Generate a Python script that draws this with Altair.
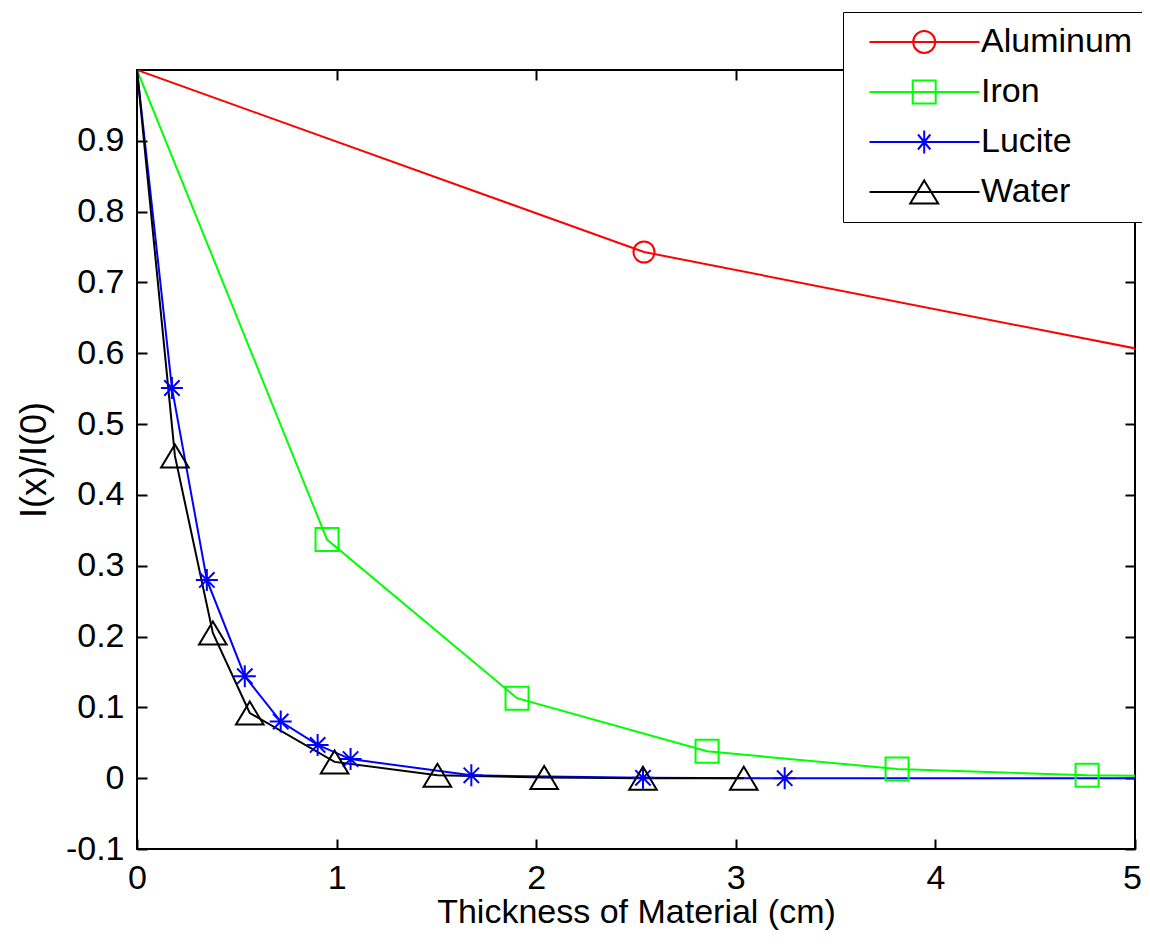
import altair as alt
import pandas as pd

series = ["Aluminum", "Iron", "Lucite", "Water"]
colors = ["#ff0000", "#00ff00", "#0000ff", "#000000"]

al_x = [0, 2.54, 7.62]
al_y = [1.0, 0.743, 0.462]
fe_x = [0, 0.952, 1.904, 2.856, 3.808, 4.76, 5.712]
fe_y = [1.0, 0.337, 0.113, 0.038, 0.013, 0.004, 0.0015]
lu_x = [0, 0.175, 0.35, 0.54, 0.72, 0.905, 1.07, 1.675, 2.535, 3.245, 5.5]
lu_y = [1.0, 0.551, 0.28, 0.144, 0.08, 0.047, 0.027, 0.004, 0.0005, 0.0, 0.0]
wa_x = [0, 0.19, 0.38, 0.565, 0.99, 1.505, 2.04, 2.535, 3.04]
wa_y = [1.0, 0.455, 0.205, 0.092, 0.023, 0.004, 0.001, 0.0, 0.0]

x_ticks = [0, 1, 2, 3, 4, 5]
y_ticks = [-0.1, 0.0, 0.1, 0.2, 0.3, 0.4, 0.5, 0.6, 0.7, 0.8, 0.9]

rows = []
for name, xs, ys in [("Aluminum", al_x, al_y), ("Iron", fe_x, fe_y),
                     ("Lucite", lu_x, lu_y), ("Water", wa_x, wa_y)]:
    for i, (xv, yv) in enumerate(zip(xs, ys)):
        rows.append({"series": name, "x": xv, "y": yv, "i": i})
df = pd.DataFrame(rows)

FONT = "Liberation Sans"
xscale = alt.Scale(domain=[0, 5], nice=False, zero=False)
yscale = alt.Scale(domain=[-0.1, 1.0], nice=False, zero=False)
cscale = alt.Scale(domain=series, range=colors)

# chart markers
marker_shapes = {
    "Aluminum": ("circle", 441),
    "Iron": ("square", 529),
    "Lucite": ("M0,-1V1M-1,0H1M-0.7,-0.7L0.7,0.7M-0.7,0.7L0.7,-0.7", 484),
    "Water": ("M0,-1L1.2,1H-1.2Z", 529),
}

# legend symbols (line + marker), 10 px per unit at symbolSize 400
legend_paths = [
    "M-0.35,0H10.65M4.02,0A1.1,1.1 0 1,1 6.22,0A1.1,1.1 0 1,1 4.02,0",
    "M-0.35,0H10.65M3.97,-1.15H6.27V1.15H3.97Z",
    "M-0.35,0H10.65M5.12,-1.15V1.15M4.42,0H5.82M4.5,-0.75L5.74,0.75M4.5,0.75L5.74,-0.75",
    "M-0.35,0H10.65M5.12,-1.15L6.52,1.15H3.72Z",
]

leg = dict(orient="none", legendX=706, legendY=-58, title=None,
           strokeColor="black", fillColor="white", padding=13,
           labelFont=FONT, labelFontSize=34, labelColor="black",
           labelOffset=91, rowPadding=16, symbolSize=400, symbolStrokeWidth=2,
           symbolOpacity=1, symbolFillColor="transparent")

color_enc = alt.Color("series:N", scale=cscale, legend=alt.Legend(**leg))

base = alt.Chart(df)

lines = base.mark_line(strokeWidth=2, clip=True).encode(
    x=alt.X("x:Q", scale=xscale, title="Thickness of Material (cm)",
            axis=alt.Axis(values=x_ticks, tickSize=alt.ExprRef(expr="-10"),
                          labelPadding=22, titlePadding=0, format="d",
                          labelFlush=False, titleFontSize=34,
                          labelOffset={"condition": {"test": "datum.value === 5", "value": -3},
                                       "value": 0})),
    y=alt.Y("y:Q", scale=yscale, title="I(x)/I(0)",
            axis=alt.Axis(values=y_ticks, tickSize=alt.ExprRef(expr="-10"),
                          labelPadding=23, titlePadding=12, titleFontSize=36,
                          labelExpr="'' + round(datum.value * 10) / 10")),
    color=color_enc,
    order="i:Q",
)

point_layers = []
for s in series:
    shp, sz = marker_shapes[s]
    point_layers.append(
        base.transform_filter((alt.datum.series == s) & (alt.datum.x > 0))
        .mark_point(shape=shp, size=sz, filled=False, strokeWidth=2, opacity=1, clip=True)
        .encode(
            x=alt.X("x:Q", scale=xscale, axis=None),
            y=alt.Y("y:Q", scale=yscale, axis=None),
            color=color_enc,
        )
    )

legend_layer = base.transform_filter("false").mark_point(
    filled=False, strokeWidth=2, opacity=1
).encode(
    x=alt.X("x:Q", scale=xscale,
            axis=alt.Axis(orient="top", values=x_ticks, labels=False, title=None,
                          tickSize=alt.ExprRef(expr="-10"))),
    y=alt.Y("y:Q", scale=yscale,
            axis=alt.Axis(orient="right", values=y_ticks, labels=False, title=None,
                          tickSize=alt.ExprRef(expr="-10"))),
    color=color_enc,
    shape=alt.Shape("series:N", scale=alt.Scale(domain=series, range=legend_paths),
                    legend=alt.Legend(**leg)),
)

chart = alt.layer(lines, *point_layers, legend_layer).resolve_axis(
    x="independent", y="independent"
).properties(
    width=998, height=779,
    autosize=alt.AutoSizeParams(type="none"),
    padding={"left": 129, "top": 62, "right": 7, "bottom": 82},
).configure_view(
    stroke="black", strokeWidth=2
).configure_axis(
    labelFont=FONT, titleFont=FONT, labelFontSize=34, titleFontSize=34,
    labelColor="black", titleColor="black", tickColor="black", tickWidth=2,
    titleFontWeight="normal", grid=False, domain=False,
)

chart.save("out.html", embed_options={"renderer": "svg", "actions": False})
